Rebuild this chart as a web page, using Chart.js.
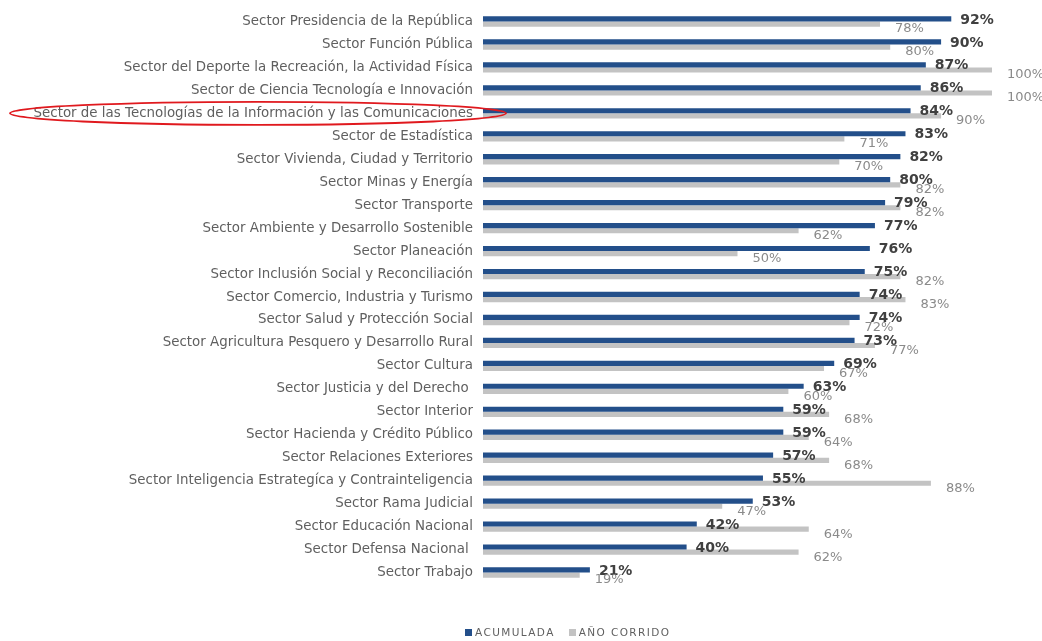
<!DOCTYPE html>
<html>
<head>
<meta charset="utf-8">
<script src="https://cdn.jsdelivr.net/npm/chart.js@4"></script>
<style>
  html, body { margin: 0; padding: 0; background: #fff; }
  #wrap { position: relative; width: 1042px; height: 641px; }
  #legend { position: absolute; left: 465px; top: 626px; white-space: nowrap;
            font: 10.5px 'DejaVu Sans', sans-serif; color: #5f5f5f; letter-spacing: 1.4px; }
  #legend span.sw { display: inline-block; width: 7px; height: 7px; margin-right: 3px; vertical-align: 0px; }
  #legend span.item { margin-right: 14px; }
</style>
</head>
<body>
<div id="wrap">
  <canvas id="chart" width="1042" height="641"></canvas>
  <div id="legend"></div>
</div>
<script>
const sectors = [
  'Sector Presidencia de la República',
  'Sector Función Pública',
  'Sector del Deporte la Recreación, la Actividad Física',
  'Sector de Ciencia Tecnología e Innovación',
  'Sector de las Tecnologías de la Información y las Comunicaciones',
  'Sector de Estadística',
  'Sector Vivienda, Ciudad y Territorio',
  'Sector Minas y Energía',
  'Sector Transporte',
  'Sector Ambiente y Desarrollo Sostenible',
  'Sector Planeación',
  'Sector Inclusión Social y Reconciliación',
  'Sector Comercio, Industria y Turismo',
  'Sector Salud y Protección Social',
  'Sector Agricultura Pesquero y Desarrollo Rural',
  'Sector Cultura',
  'Sector Justicia y del Derecho ',
  'Sector Interior',
  'Sector Hacienda y Crédito Público',
  'Sector Relaciones Exteriores',
  'Sector Inteligencia Estrategíca y Contrainteligencia',
  'Sector Rama Judicial',
  'Sector Educación Nacional',
  'Sector Defensa Nacional ',
  'Sector Trabajo'
];
const acumulada = [92, 90, 87, 86, 84, 83, 82, 80, 79, 77, 76, 75, 74, 74, 73, 69, 63, 59, 59, 57, 55, 53, 42, 40, 21];
const anoCorrido = [78, 80, 100, 100, 90, 71, 70, 82, 82, 62, 50, 82, 83, 72, 77, 67, 60, 68, 64, 68, 88, 47, 64, 62, 19];
const seriesNames = ['ACUMULADA', 'AÑO CORRIDO'];
const highlighted = 4;

const BLUE = '#234f8a';
const GRAY = '#c3c3c3';
const FONT = 'DejaVu Sans';

const valueLabels = {
  id: 'valueLabels',
  afterDatasetsDraw(chart) {
    const ctx = chart.ctx;
    ctx.save();
    ctx.textBaseline = 'middle';
    ctx.textAlign = 'left';
    chart.data.datasets.forEach((ds, di) => {
      const meta = chart.getDatasetMeta(di);
      meta.data.forEach((bar, i) => {
        if (di === 0) {
          ctx.font = 'bold 14px ' + FONT;
          ctx.fillStyle = '#404040';
          ctx.fillText(ds.data[i] + '%', bar.x + 9, bar.y + 1);
        } else {
          ctx.font = '13px ' + FONT;
          ctx.fillStyle = '#8a8a8a';
          ctx.fillText(ds.data[i] + '%', bar.x + 15, bar.y + 5);
        }
      });
    });
    // red ellipse marking the highlighted sector
    const y = chart.scales.y.getPixelForValue(highlighted);
    ctx.strokeStyle = '#e0191e';
    ctx.lineWidth = 1.8;
    ctx.beginPath();
    ctx.ellipse(258, y, 248, 11.5, 0, 0, Math.PI * 2);
    ctx.stroke();
    ctx.restore();
  }
};

const chart = new Chart(document.getElementById('chart'), {
  type: 'bar',
  data: {
    labels: sectors,
    datasets: [
      { label: seriesNames[0], data: acumulada, backgroundColor: BLUE },
      { label: seriesNames[1], data: anoCorrido, backgroundColor: GRAY }
    ]
  },
  options: {
    indexAxis: 'y',
    responsive: false,
    animation: false,
    datasets: { bar: { categoryPercentage: 0.45, barPercentage: 1.0 } },
    layout: { padding: { top: -6, right: 50, bottom: 57, left: 0 } },
    scales: {
      x: { display: false, min: 0, max: 100 },
      y: {
        grid: { display: false },
        border: { display: false },
        ticks: { color: '#5f5f5f', font: { family: FONT, size: 13.4 }, padding: 2, autoSkip: false },
        afterFit(scale) { scale.width = 483; }
      }
    },
    plugins: {
      legend: { display: false },
      tooltip: { enabled: false }
    }
  },
  plugins: [valueLabels]
});

document.getElementById('legend').innerHTML = chart.data.datasets.map(ds =>
  '<span class="item"><span class="sw" style="background:' + ds.backgroundColor + '"></span>' + ds.label + '</span>'
).join('');
</script>
</body>
</html>
